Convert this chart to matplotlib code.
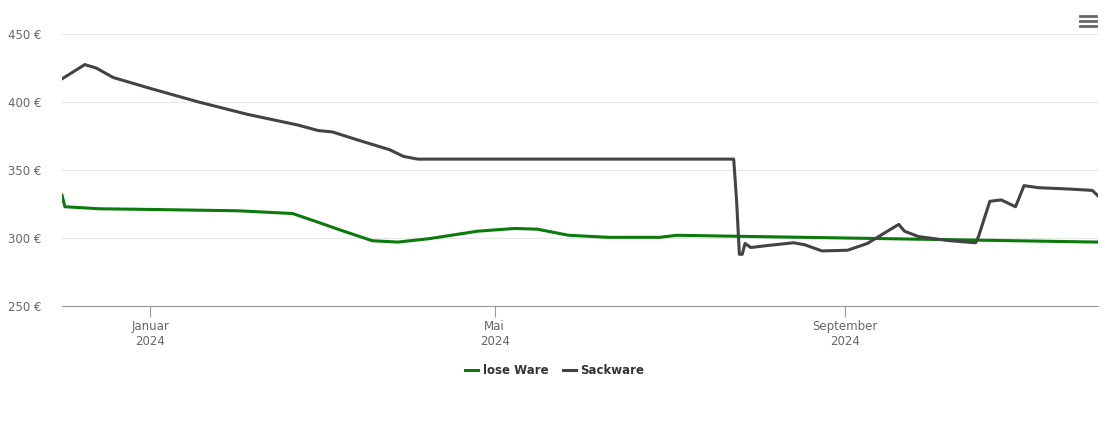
import matplotlib
matplotlib.use("Agg")
import matplotlib.pyplot as plt
import pandas as pd

sack_dates = ["2023-12-01","2023-12-09","2023-12-13","2023-12-19","2024-01-01","2024-01-18","2024-02-04",
              "2024-02-22","2024-02-29","2024-03-05","2024-03-14","2024-03-25","2024-03-30","2024-04-04",
              "2024-07-24","2024-07-25","2024-07-26","2024-07-27","2024-07-28","2024-07-30","2024-08-05",
              "2024-08-14","2024-08-18","2024-08-24","2024-09-02","2024-09-09","2024-09-16","2024-09-20",
              "2024-09-22","2024-09-27","2024-10-08","2024-10-17","2024-10-18","2024-10-22","2024-10-26",
              "2024-10-31","2024-11-01","2024-11-03","2024-11-08","2024-11-19","2024-11-27","2024-11-29"]
sack_vals = [417,427.5,425,418,410,400,391,383,379,378,372,365,360,358,
             358,328,288,288,296,293,294.5,296.5,295,290.5,291,296,305,310,
             305,301,298,296.5,301,327,328,323,328,338.5,337,336,335,331]
lose_dates = ["2023-12-01","2023-12-02","2023-12-14","2024-01-01","2024-02-01","2024-02-20","2024-02-27",
              "2024-03-09","2024-03-19","2024-03-28","2024-04-08","2024-04-25","2024-05-08","2024-05-16",
              "2024-05-27","2024-06-10","2024-06-28","2024-07-04","2024-11-29"]
lose_vals = [331.5,323,321.5,321,320,318,313,305,298,297,299.5,305,307,306.5,302,300.5,300.5,302,297]
yticks = [250,300,350,400,450]
xtick_dates = ["2024-01-01","2024-05-01","2024-09-01"]
xtick_labels = ["Januar\n2024","Mai\n2024","September\n2024"]

fig = plt.figure(figsize=(11.1,4.22), dpi=100)
ax = fig.add_axes([62/1110, 116/422, 1036/1110, 272/422])
ax.plot(pd.to_datetime(lose_dates), lose_vals, color="#0a7a0a", lw=2.2, label="lose Ware", solid_joinstyle="round")
ax.plot(pd.to_datetime(sack_dates), sack_vals, color="#434343", lw=2.2, label="Sackware", solid_joinstyle="round")
ax.set_xlim(pd.Timestamp("2023-12-01"), pd.Timestamp("2024-11-29"))
ax.set_ylim(250,450)
ax.set_yticks(yticks)
ax.set_yticklabels([f"{v} €" for v in yticks], fontsize=8.5, color="#666666")
ax.set_xticks(pd.to_datetime(xtick_dates))
ax.set_xticklabels(xtick_labels, fontsize=8.5, color="#666666")
ax.grid(axis="y", color="#e6e6e6", lw=0.8)
ax.set_axisbelow(True)
for s in ["top","right","left"]:
    ax.spines[s].set_visible(False)
ax.spines["bottom"].set_color("#999999")
ax.tick_params(axis="y", length=0, pad=15)
ax.tick_params(axis="x", length=8, color="#999999", pad=2)
leg = fig.legend(loc="center", bbox_to_anchor=(0.5, 1-371/422), ncol=2, frameon=False,
                 fontsize=8.5, handlelength=1.1, columnspacing=1.2, handletextpad=0.4)
for t in leg.get_texts():
    t.set_fontweight("bold"); t.set_color("#333333")
for i in range(3):
    fig.add_artist(plt.Line2D([1080/1110,1096/1110],[1-(16+i*5)/422]*2, color="#666666", lw=2))
fig.savefig("out.png", dpi=100)
